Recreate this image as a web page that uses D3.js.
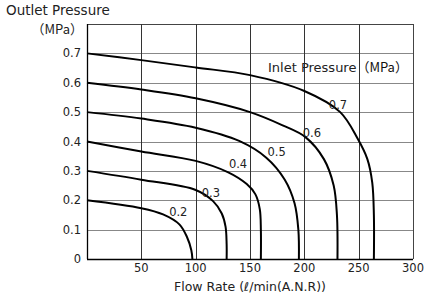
<!DOCTYPE html>
<meta charset="utf-8">
<style>
body { margin: 0; background: #fff; }
text { font-family: "DejaVu Sans", "Noto Sans CJK JP", sans-serif; fill: #222; }
.cjk { font-family: "Noto Sans CJK JP", sans-serif; }
</style>
<body>
<script src="https://d3js.org/d3.v7.min.js"></script>
<script>

// inlet pressure for each curve (MPa)
var inlet = [0.2, 0.3, 0.4, 0.5, 0.6, 0.7];

// flow rate (l/min ANR) and outlet pressure (MPa)
var flow02 = [0, 50, 70, 85, 92, 96, 97];
var out02  = [0.2, 0.173, 0.152, 0.118, 0.075, 0.03, 0];

var flow03 = [0, 50, 100, 116, 124, 127.5, 128.5, 128.5];
var out03  = [0.3, 0.27, 0.235, 0.197, 0.155, 0.11, 0.05, 0];

var flow04 = [0, 50, 100, 130, 147, 155, 159, 160, 160];
var out04  = [0.4, 0.366, 0.334, 0.295, 0.255, 0.22, 0.17, 0.1, 0];

var flow05 = [0, 50, 100, 140, 165, 182, 191, 194.5, 195];
var out05  = [0.5, 0.478, 0.447, 0.402, 0.345, 0.27, 0.19, 0.1, 0];

var flow06 = [0, 50, 100, 150, 180, 201, 218, 227, 230, 230.5];
var out06  = [0.6, 0.577, 0.547, 0.5, 0.455, 0.415, 0.34, 0.25, 0.15, 0];

var flow07 = [0, 50, 100, 150, 200, 233, 249, 258, 262.5, 264, 264];
var out07  = [0.7, 0.677, 0.652, 0.626, 0.572, 0.5, 0.41, 0.34, 0.26, 0.15, 0];

// where the inlet pressure label sits for each curve
var labelFlow = [84, 114, 139, 174.5, 207, 231];
var labelOut  = [0.161, 0.225, 0.325, 0.365, 0.43, 0.524];

var xTicks = [50, 100, 150, 200, 250, 300];
var yTicks = [0, 0.1, 0.2, 0.3, 0.4, 0.5, 0.6, 0.7];

var flows = [flow02, flow03, flow04, flow05, flow06, flow07];
var outs = [out02, out03, out04, out05, out06, out07];

var width = 424,
    height = 295,
    margin = {top: 24, right: 11, bottom: 36, left: 87};

var svg = d3.select("body").append("svg")
    .attr("width", width)
    .attr("height", height);

var x = d3.scaleLinear().domain([0, 300]).range([margin.left, width - margin.right]);
var y = d3.scaleLinear().domain([0, 0.8]).range([height - margin.bottom, margin.top]);

// horizontal grid
svg.selectAll(".hgrid")
    .data([0.1, 0.2, 0.3, 0.4, 0.5, 0.6, 0.7, 0.8])
    .enter().append("line")
    .attr("x1", x(0)).attr("x2", x(300))
    .attr("y1", function(d) { return Math.round(y(d)) + 0.5; })
    .attr("y2", function(d) { return Math.round(y(d)) + 0.5; })
    .attr("stroke", function(d) { return d == 0.8 ? "#444" : "#888"; })
    .attr("stroke-width", 1.2);

// vertical grid
svg.selectAll(".vgrid")
    .data(xTicks)
    .enter().append("line")
    .attr("y1", y(0)).attr("y2", y(0.8))
    .attr("x1", function(d) { return Math.round(x(d)) + 0.5; })
    .attr("x2", function(d) { return Math.round(x(d)) + 0.5; })
    .attr("stroke", function(d) { return d == 300 ? "#444" : "#333"; })
    .attr("stroke-width", 1);

// axes lines
svg.append("line")
    .attr("x1", x(0) + 0.5).attr("x2", x(0) + 0.5)
    .attr("y1", y(0.8)).attr("y2", y(0))
    .attr("stroke", "#000").attr("stroke-width", 1.3);
svg.append("line")
    .attr("x1", x(0)).attr("x2", x(300))
    .attr("y1", y(0) + 0.5).attr("y2", y(0) + 0.5)
    .attr("stroke", "#000").attr("stroke-width", 1.3);

// tick labels
svg.selectAll(".ylab")
    .data(yTicks)
    .enter().append("text")
    .attr("x", x(0) - 6)
    .attr("y", function(d) { return y(d); })
    .attr("dy", "0.35em")
    .attr("text-anchor", "end")
    .attr("font-size", 11.5)
    .text(function(d) { return d == 0 ? "0" : d3.format(".1f")(d); });

svg.selectAll(".xlab")
    .data(xTicks)
    .enter().append("text")
    .attr("x", function(d) { return x(d); })
    .attr("y", y(0) + 9)
    .attr("dy", "0.35em")
    .attr("text-anchor", "middle")
    .attr("font-size", 11.5)
    .text(function(d) { return d; });

// curves
var line = d3.line()
    .x(function(d) { return x(d[0]); })
    .y(function(d) { return y(d[1]); })
    .curve(d3.curveCatmullRom.alpha(0.5));

inlet.forEach(function(p, i) {
  var pts = flows[i].map(function(f, j) { return [f, outs[i][j]]; });
  svg.append("path")
      .attr("d", line(pts))
      .attr("fill", "none")
      .attr("stroke", "#000")
      .attr("stroke-width", 2);

  svg.append("text")
      .attr("x", x(labelFlow[i]))
      .attr("y", y(labelOut[i]))
      .attr("dy", "0.35em")
      .attr("text-anchor", "middle")
      .attr("font-size", 11.5)
      .text(d3.format(".1f")(p));
});

// titles
svg.append("text")
    .attr("x", 6).attr("y", 15)
    .attr("font-size", 13.5)
    .attr("fill", "#333")
    .text("Outlet Pressure");

svg.append("text")
    .attr("class", "cjk")
    .attr("x", 83).attr("y", 33.5)
    .attr("text-anchor", "end")
    .attr("font-size", 13)
    .attr("fill", "#111")
    .text("（MPa）");

var inletTitle = svg.append("text")
    .attr("x", 268).attr("y", 72)
    .attr("font-size", 13)
    .attr("fill", "#444");
inletTitle.append("tspan").text("Inlet Pressure");
inletTitle.append("tspan")
    .attr("class", "cjk")
    .attr("font-size", 13)
    .attr("fill", "#111")
    .text("（MPa）");

svg.append("text")
    .attr("x", 250).attr("y", 291)
    .attr("text-anchor", "middle")
    .attr("font-size", 12.5)
    .attr("fill", "#333")
    .text("Flow Rate (ℓ/min(A.N.R))");

</script>
